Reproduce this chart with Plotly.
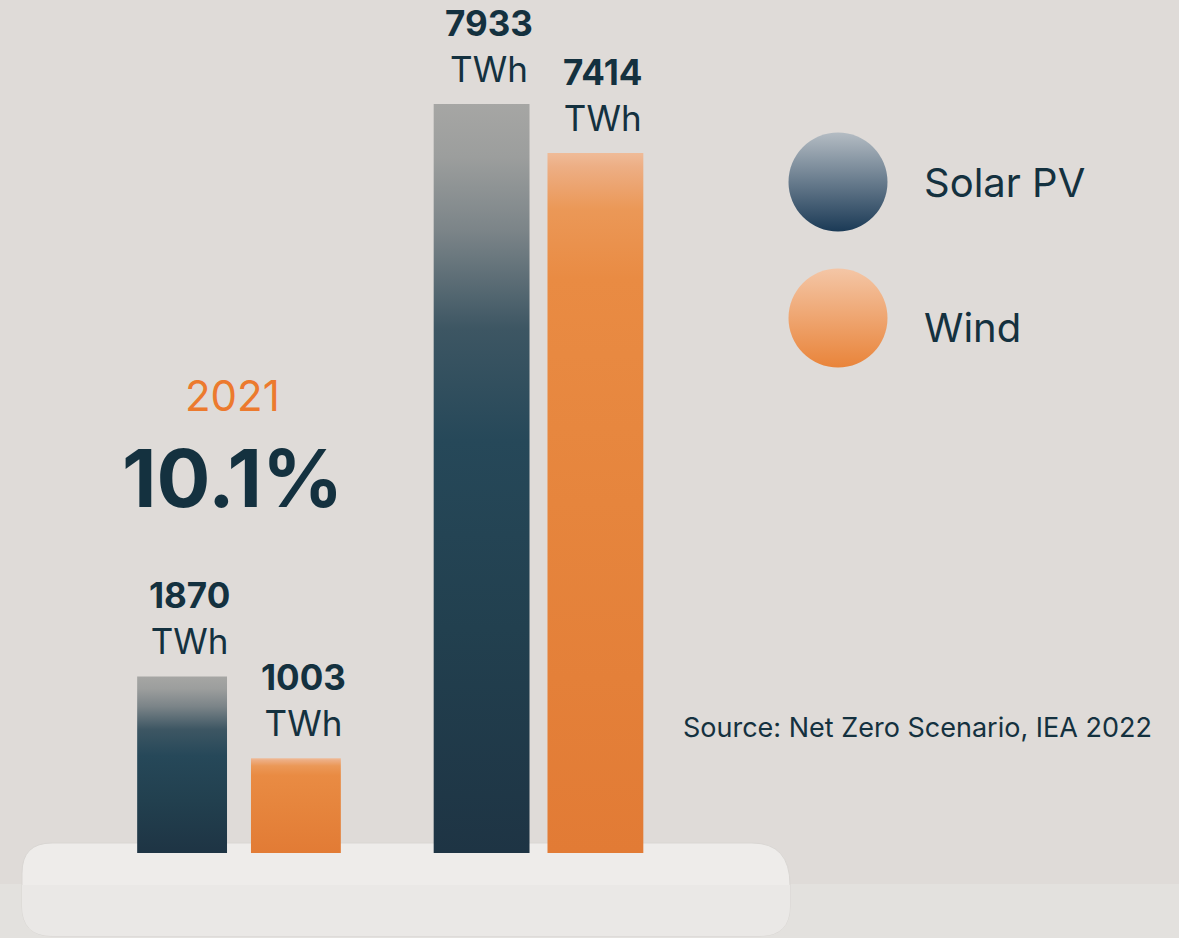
import plotly.graph_objects as go

# ---- data ----
years = ["2021", "2050"]
series_names = ["Solar PV", "Wind"]
solar_twh = [1870, 7933]
wind_twh = [1003, 7414]
share_year = "2021"
share_value = "10.1%"
unit = "TWh"
source_text = "Source: Net Zero Scenario, IEA 2022"

W, H = 1179, 938
NAVY = "#14313f"
ORANGE_TXT = "#ec7a2e"
FONT = "Inter"

solar_scale = [[0, "#1e3444"], [0.3, "#22404f"], [0.55, "#264859"], [0.7, "#3d5663"],
               [0.83, "#7b8488"], [0.93, "#9c9e9d"], [1, "#a6a6a4"]]
wind_scale = [[0, "#e27b35"], [0.5, "#e6853d"], [0.82, "#e98b43"], [0.92, "#eb9857"],
              [0.98, "#edae84"], [1, "#efbb98"]]

px_per_unit = 299.5
x0 = -239 / px_per_unit
x1 = (W - 239) / px_per_unit
twh_per_px = 1 / 0.0944
y0 = -(H - 853) * twh_per_px
y1 = y0 + H * twh_per_px

fig = go.Figure()

group_x = list(range(len(years)))
bar_w = [0.30, 0.32]
offsets = [-0.19, 0.19]


def add_bar(xc, w, v, scale):
    xs = [xc - w / 2, xc + w / 2, xc + w / 2, xc - w / 2, xc - w / 2]
    ys = [0, 0, v, v, 0]
    fig.add_trace(go.Scatter(
        x=xs, y=ys, mode="lines", line=dict(width=0), fill="toself",
        fillgradient=dict(type="vertical", colorscale=scale, start=0, stop=v),
        showlegend=False, hoverinfo="skip",
    ))


for gi, gx in enumerate(group_x):
    for si, (vals, scale) in enumerate([(solar_twh, solar_scale), (wind_twh, wind_scale)]):
        xc = gx + offsets[si]
        add_bar(xc, bar_w[gi], vals[gi], scale)
        fig.add_annotation(
            x=xc + 0.025, y=vals[gi], xref="x", yref="y",
            text=f"<b>{vals[gi]}</b><br>{unit}", showarrow=False,
            xanchor="center", yanchor="bottom", yshift=12,
            font=dict(family=FONT, size=35, color=NAVY),
        )

# legend spheres on overlay axes
leg_y = [1 - 182 / H, 1 - 318 / H]
leg_text_y = [183, 327]
leg_colors = [("#b4bcc3", "#1b3a56"), ("#f4c6a6", "#e9843a")]
for i, name in enumerate(series_names):
    fig.add_trace(go.Scatter(
        x=[838 / W], y=[leg_y[i]], xaxis="x2", yaxis="y2", mode="markers",
        marker=dict(size=99, color=leg_colors[i][0],
                    gradient=dict(type="vertical", color=leg_colors[i][1]),
                    line=dict(width=0)),
        showlegend=False, hoverinfo="skip",
    ))
    fig.add_annotation(
        x=922 / W, y=1 - leg_text_y[i] / H, xref="paper", yref="paper",
        text=name, showarrow=False, xanchor="left", yanchor="middle",
        font=dict(family=FONT, size=40, color=NAVY),
    )

# share text
fig.add_annotation(x=232 / W, y=1 - 395 / H, xref="paper", yref="paper",
                   text=share_year, showarrow=False, xanchor="center", yanchor="middle",
                   font=dict(family=FONT, size=42, color=ORANGE_TXT))
fig.add_annotation(x=232 / W, y=1 - 478 / H, xref="paper", yref="paper",
                   text=f"<b>{share_value}</b>", showarrow=False, xanchor="center", yanchor="middle",
                   font=dict(family=FONT, size=80, color=NAVY))
fig.add_annotation(x=681 / W, y=1 - 727 / H, xref="paper", yref="paper",
                   text=source_text, showarrow=False, xanchor="left", yanchor="middle",
                   font=dict(family=FONT, size=27, color=NAVY))

# floor and platform (below the traces)
fig.add_shape(type="rect", xref="paper", yref="paper", x0=0, x1=1, y0=-0.01, y1=1 - 884 / H,
              fillcolor="#e3e1de", line_width=0, layer="below")
px0, px1 = 22 / W, 790 / W
py0, py1 = 1 - 936 / H, 1 - 843 / H
pmid = 1 - 885 / H
rx, ry = 30 / W, 30 / H
path = (f"M {px0} {py0 + ry} L {px0} {py1 - ry} Q {px0} {py1} {px0 + rx} {py1} "
        f"L {752 / W} {py1} Q {px1} {py1} {px1} {pmid} L {px1} {py0 + ry} "
        f"Q {px1} {py0} {px1 - rx} {py0} L {px0 + rx} {py0} Q {px0} {py0} {px0} {py0 + ry} Z")
fig.add_shape(type="path", xref="paper", yref="paper", path=path,
              fillcolor="#eeecea", line=dict(color="#d9d6d3", width=1), layer="below")
front = (f"M {px0} {py0 + ry} L {px0} {pmid} L {px1} {pmid} L {px1} {py0 + ry} "
         f"Q {px1} {py0} {px1 - rx} {py0} L {px0 + rx} {py0} Q {px0} {py0} {px0} {py0 + ry} Z")
fig.add_shape(type="path", xref="paper", yref="paper", path=front,
              fillcolor="#eae8e6", line_width=0, layer="below")

fig.update_layout(
    width=W, height=H, margin=dict(l=0, r=0, t=0, b=0),
    paper_bgcolor="#dfdbd8", plot_bgcolor="rgba(0,0,0,0)",
    xaxis=dict(range=[x0, x1], visible=False, fixedrange=True),
    yaxis=dict(range=[y0, y1], visible=False, fixedrange=True),
    xaxis2=dict(range=[0, 1], overlaying="x", visible=False),
    yaxis2=dict(range=[0, 1], overlaying="y", visible=False),
    showlegend=False,
)

fig.write_html("out.html")
